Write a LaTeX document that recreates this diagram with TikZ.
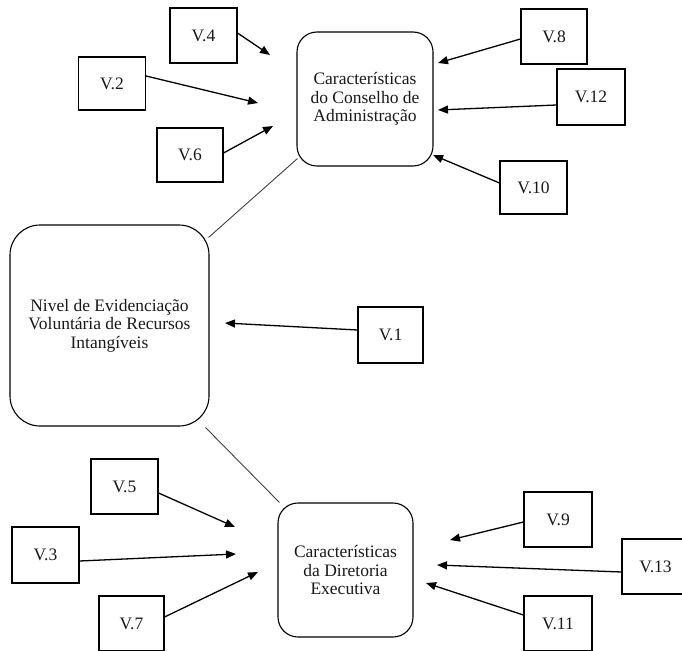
\documentclass[tikz,border=0pt]{standalone}
\usepackage{fontspec}
\setmainfont{Liberation Serif}
\usetikzlibrary{arrows.meta}
\begin{document}
\begin{tikzpicture}[x=1pt,y=-1pt,
  txt/.style={font=\fontsize{17.5pt}{18.5pt}\selectfont, text=black!90},
  varbox/.style={txt, draw=black, line width=1.1pt, inner sep=0pt, minimum width=67pt, minimum height=55pt},
  roundbox/.style={txt, draw=black, line width=1.1pt, inner sep=0pt, align=center, rounded corners=20pt},
  influence/.style={line width=1.3pt, -{Triangle[length=10pt,width=8pt]}},
  link/.style={line width=0.9pt, draw=black!75}]
\useasboundingbox (0,0) rectangle (682,650);
\clip (0,0) rectangle (682,650);

% central constructs
\node[roundbox, minimum width=199pt, minimum height=201pt, rounded corners=30pt] (nivel) at (109.5,325.5)
  {Nivel de Evidenciação\\Voluntária de Recursos\\Intangíveis};
\node[roundbox, minimum width=136pt, minimum height=134pt] (conselho) at (365,99)
  {Características\\do Conselho de\\Administração};
\node[roundbox, minimum width=135pt, minimum height=134pt] (diretoria) at (345.5,570)
  {Características\\da Diretoria\\Executiva};

% variables
\node[varbox] (v4)  at (203.5,35.5) {V.4};
\node[varbox, minimum height=53pt] (v2) at (112,83.5) {V.2};
\node[varbox, minimum width=66pt, minimum height=54pt] (v6) at (190,155) {V.6};
\node[varbox, minimum width=66pt] (v8) at (554,36.5) {V.8};
\node[varbox, minimum width=68pt, minimum height=56pt] (v12) at (591,97) {V.12};
\node[varbox, minimum height=53pt] (v10) at (533.5,187.5) {V.10};
\node[varbox, minimum width=65pt, minimum height=56pt] (v1) at (390.5,335) {V.1};
\node[varbox] (v5)  at (124.5,486.5) {V.5};
\node[varbox, minimum height=56pt] (v3) at (45.5,555) {V.3};
\node[varbox, minimum width=65pt] (v7) at (131.5,623.5) {V.7};
\node[varbox, minimum width=68pt] (v9) at (558,519.5) {V.9};
\node[varbox] (v13) at (655.5,566.5) {V.13};
\node[varbox, minimum width=68pt] (v11) at (558,623.5) {V.11};

% arrow tips
\coordinate (t4)  at (270,55);
\coordinate (t2)  at (258,103);
\coordinate (t6)  at (273,126);
\coordinate (t8)  at (438,63);
\coordinate (t12) at (438,110);
\coordinate (t10) at (433,155);
\coordinate (t1)  at (225,323);
\coordinate (t5)  at (235,527);
\coordinate (t3)  at (236,554);
\coordinate (t7)  at (258,572);
\coordinate (t9)  at (450,540);
\coordinate (t13) at (437,565);
\coordinate (t11) at (426,583);

% links between constructs
\draw[link] ([shift={(-1pt,-13pt)}]nivel.north east) -- ([shift={(1pt,8pt)}]conselho.south west);
\draw[link] ([shift={(-4pt,-1pt)}]nivel.south east) -- ([shift={(2pt,0pt)}]diretoria.north west);

% influences
\draw[influence] ([yshift=2.5pt]v4.east) -- (t4);
\draw[influence] ([yshift=7.5pt]v2.east) -- (t2);
\draw[influence] ([yshift=2pt]v6.east) -- (t6);
\draw[influence] ([yshift=-2.5pt]v8.west) -- (t8);
\draw[influence] ([yshift=-8pt]v12.west) -- (t12);
\draw[influence] ([yshift=4.5pt]v10.west) -- (t10);
\draw[influence] ([yshift=5pt]v1.west) -- (t1);
\draw[influence] ([yshift=-6.5pt]v5.east) -- (t5);
\draw[influence] ([yshift=-6pt]v3.east) -- (t3);
\draw[influence] ([yshift=6.5pt]v7.east) -- (t7);
\draw[influence] ([yshift=-2.5pt]v9.west) -- (t9);
\draw[influence] ([yshift=-5.5pt]v13.west) -- (t13);
\draw[influence] ([yshift=8.5pt]v11.west) -- (t11);
\end{tikzpicture}
\end{document}
